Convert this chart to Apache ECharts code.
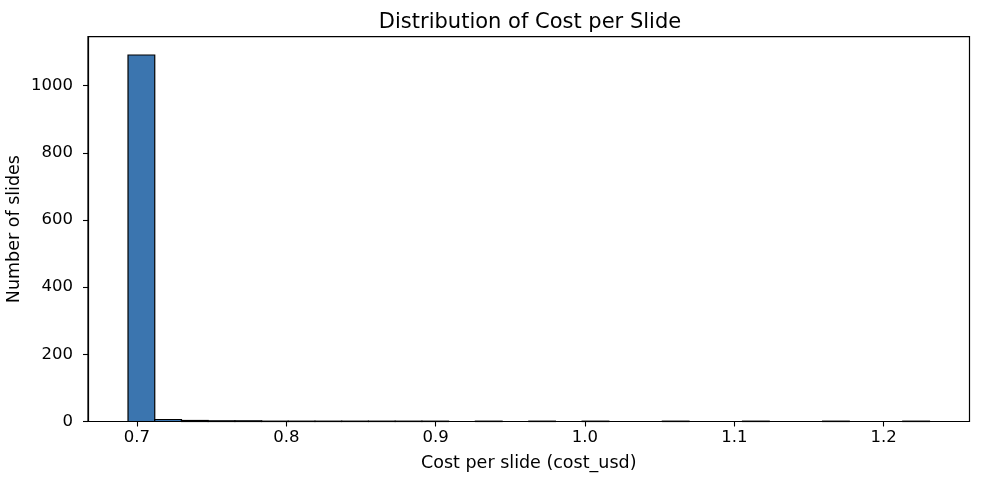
<!DOCTYPE html>
<html>
<head>
<meta charset="utf-8">
<script src="https://cdn.jsdelivr.net/npm/echarts@6/dist/echarts.min.js"></script>
<style>html,body{margin:0;padding:0;background:#fff}#c{width:988px;height:478px}</style>
</head>
<body>
<div id="c"></div>
<script>
// Histogram bin edges (cost_usd)
const binEdges = [0.6940,0.7119,0.7298,0.7477,0.7656,0.7835,0.8013,0.8192,0.8371,0.8550,
  0.8729,0.8908,0.9087,0.9266,0.9445,0.9624,0.9802,0.9981,1.0160,1.0339,
  1.0518,1.0697,1.0876,1.1055,1.1234,1.1413,1.1591,1.1770,1.1949,1.2128,1.2307];
// Counts per bin
const binCounts = [1091,6,3,2,2,1,1,1,1,1,1,1,0,1,0,1,0,1,0,0,1,0,0,1,0,0,1,0,0,1];
const xTicks = [0.7,0.8,0.9,1.0,1.1,1.2];
const yTicks = [0,200,400,600,800,1000];

const bars = binCounts.map((c,i)=>[binEdges[i],binEdges[i+1],c]);
const FONT = 'DejaVu Sans';
const chart = echarts.init(document.getElementById('c'),null,{renderer:'canvas'});
chart.setOption({
  animation:false,
  backgroundColor:'#fff',
  title:{text:'Distribution of Cost per Slide',left:525,top:7,textAlign:'center',
    textStyle:{fontFamily:FONT,fontSize:21,fontWeight:'normal',color:'#000'}},
  grid:{left:88,right:18.5,top:36.7,bottom:56.5,show:true,borderColor:'#000',borderWidth:1.2,
    backgroundColor:'#fff',containLabel:false,outerBoundsMode:'none'},
  xAxis:{type:'value',min:0.6672,max:1.2575,
    name:'Cost per slide (cost_usd)',nameLocation:'middle',nameGap:33,
    nameTextStyle:{fontFamily:FONT,fontSize:17.5,color:'#000'},
    axisLine:{show:true,lineStyle:{color:'#000',width:1.2}},
    axisTick:{show:true,length:5,lineStyle:{color:'#000',width:1.1},customValues:xTicks},
    axisLabel:{fontFamily:FONT,fontSize:16.5,color:'#000',margin:8,customValues:xTicks,
      formatter:v=>v.toFixed(1)},
    splitLine:{show:false}},
  yAxis:{type:'value',min:0,max:1145.5,
    name:'Number of slides',nameLocation:'middle',nameGap:65,nameMoveOverlap:false,
    nameTextStyle:{fontFamily:FONT,fontSize:17.5,color:'#000'},
    axisLine:{show:true,lineStyle:{color:'#000',width:1.2}},
    axisTick:{show:true,length:5,lineStyle:{color:'#000',width:1.1},customValues:yTicks},
    axisLabel:{fontFamily:FONT,fontSize:16.5,color:'#000',margin:15,customValues:yTicks,
      formatter:v=>String(v)},
    splitLine:{show:false}},
  series:[{
    type:'custom',
    data:bars,
    renderItem:function(params,api){
      const a = api.coord([api.value(0),api.value(2)]);
      const b = api.coord([api.value(1),0]);
      if(api.value(2)<=0) return null;
      return {type:'rect',shape:{x:a[0],y:a[1],width:b[0]-a[0],height:b[1]-a[1]},
        style:{fill:'#3b75af',stroke:'#000',lineWidth:1.2}};
    },
    encode:{x:[0,1],y:2}
  }]
});
</script>
</body>
</html>
